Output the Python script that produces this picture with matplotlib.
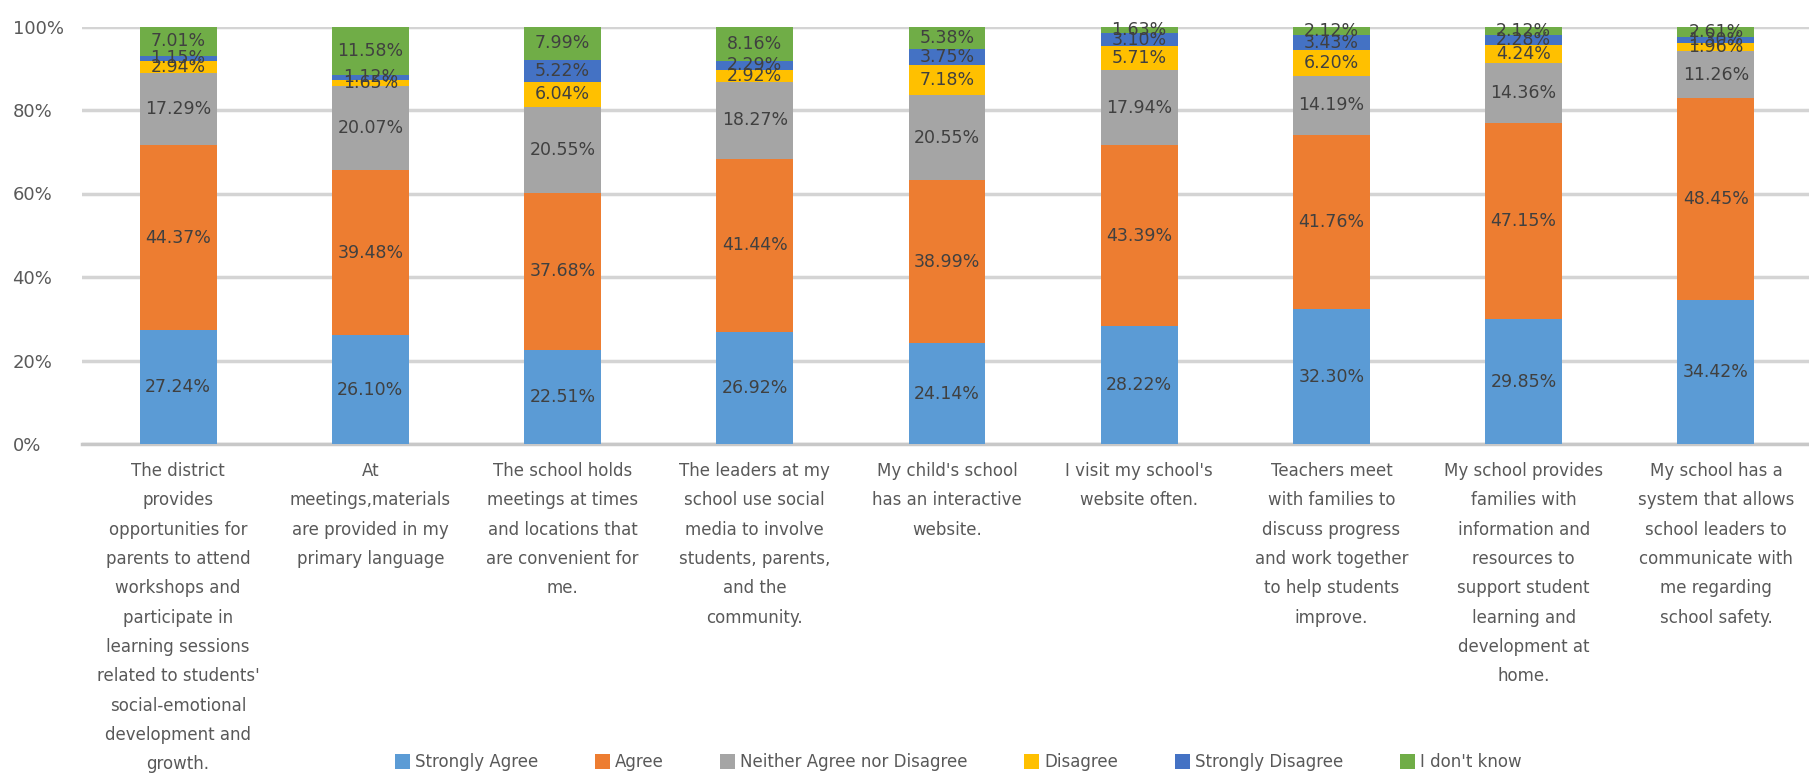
import matplotlib
matplotlib.use("Agg")
import matplotlib.pyplot as plt
import numpy as np

plt.rcParams['font.family'] = ['DejaVu Sans']

categories = [
    "The district\nprovides\nopportunities for\nparents to attend\nworkshops and\nparticipate in\nlearning sessions\nrelated to students'\nsocial-emotional\ndevelopment and\ngrowth.",
    "At\nmeetings,materials\nare provided in my\nprimary language",
    "The school holds\nmeetings at times\nand locations that\nare convenient for\nme.",
    "The leaders at my\nschool use social\nmedia to involve\nstudents, parents,\nand the\ncommunity.",
    "My child's school\nhas an interactive\nwebsite.",
    "I visit my school's\nwebsite often.",
    "Teachers meet\nwith families to\ndiscuss progress\nand work together\nto help students\nimprove.",
    "My school provides\nfamilies with\ninformation and\nresources to\nsupport student\nlearning and\ndevelopment at\nhome.",
    "My school has a\nsystem that allows\nschool leaders to\ncommunicate with\nme regarding\nschool safety.",
]

series_names = ["Strongly Agree", "Agree", "Neither Agree nor Disagree",
                "Disagree", "Strongly Disagree", "I don't know"]

strongly_agree    = [27.24, 26.10, 22.51, 26.92, 24.14, 28.22, 32.30, 29.85, 34.42]
agree             = [44.37, 39.48, 37.68, 41.44, 38.99, 43.39, 41.76, 47.15, 48.45]
neither           = [17.29, 20.07, 20.55, 18.27, 20.55, 17.94, 14.19, 14.36, 11.26]
disagree          = [2.94, 1.65, 6.04, 2.92, 7.18, 5.71, 6.20, 4.24, 1.96]
strongly_disagree = [1.15, 1.12, 5.22, 2.29, 3.75, 3.10, 3.43, 2.28, 1.30]
dont_know         = [7.01, 11.58, 7.99, 8.16, 5.38, 1.63, 2.12, 2.12, 2.61]

colors = ["#5B9BD5", "#ED7D31", "#A5A5A5", "#FFC000", "#4472C4", "#70AD47"]

series = [strongly_agree, agree, neither, disagree, strongly_disagree, dont_know]

fig = plt.figure(figsize=(18.09, 7.77), dpi=100)
ax = fig.add_axes([82/1809, (777-444)/777, 1730/1809, (444-26.5)/777])

x = np.arange(len(categories))
bottom = np.zeros(len(categories))
for name, vals, col in zip(series_names, series, colors):
    vals = np.array(vals)
    bars = ax.bar(x, vals, 0.4, bottom=bottom, color=col, label=name, zorder=3)
    ax.bar_label(bars, labels=[f"{v:.2f}%" for v in vals], label_type='center',
                 fontsize=12.5, color='#404040', zorder=4)
    bottom += vals

ax.set_xlim(-0.5, len(categories) - 0.5)
ax.set_ylim(0, 100)
ax.set_yticks([0, 20, 40, 60, 80, 100])
ax.set_yticklabels(["0%", "20%", "40%", "60%", "80%", "100%"])
for lab in ax.get_yticklabels():
    lab.set_horizontalalignment('left')
ax.tick_params(axis='y', length=0, pad=50, labelsize=13, labelcolor='#595959')
ax.set_xticks(x)
ax.set_xticklabels(categories)
ax.tick_params(axis='x', length=0, pad=13, labelsize=12, labelcolor='#595959')
for lab in ax.get_xticklabels():
    lab.set_linespacing(1.81)
    lab.set_verticalalignment('top')

ax.grid(axis='y', color='#D4D4D4', linewidth=2.5, zorder=0)
for s in ['top', 'right', 'left']:
    ax.spines[s].set_visible(False)
ax.spines['bottom'].set_color('#C8C8C8')
ax.spines['bottom'].set_linewidth(2.5)

leg = fig.legend(loc='center', bbox_to_anchor=(958/1809, 1 - 762/777), ncol=6,
                 frameon=False, fontsize=12, labelcolor='#595959',
                 handlelength=0.9, handleheight=1.0, handletextpad=0.3,
                 columnspacing=3.4)

fig.savefig("out.png", dpi=100)
